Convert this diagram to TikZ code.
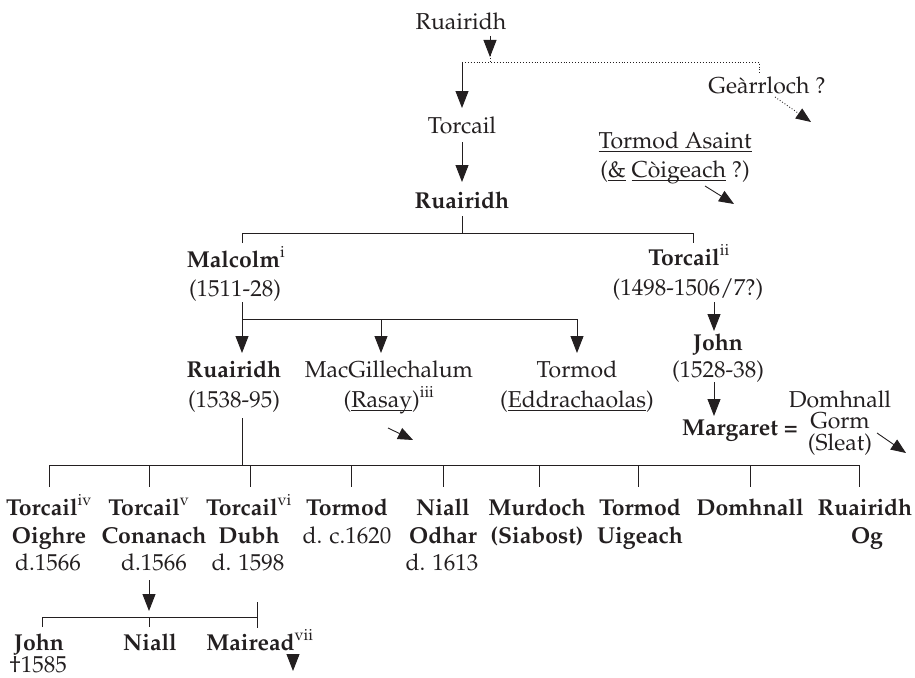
\documentclass[tikz,border=0pt]{standalone}
\usepackage[T1]{fontenc}
\renewcommand{\rmdefault}{ppl}
\usetikzlibrary{arrows.meta}
\definecolor{ink}{HTML}{231F20}
\begin{document}
\begin{tikzpicture}[x=1pt,y=-1pt,
  t/.style={inner sep=0pt, anchor=base, text=ink, font=\fontsize{23}{28}\selectfont},
  b/.style={t, font=\fontsize{23}{28}\selectfont\bfseries},
  ln/.style={draw=ink, line width=0.9pt},
  dl/.style={draw=ink, line width=0.9pt, dotted},
  ar/.style={ln, -{Triangle[length=17pt,width=13pt]}},
  sar/.style={ln, -{Triangle[length=15pt,width=12pt]}},
  dar/.style={dl, -{Triangle[length=15pt,width=12pt]}}]
\newcommand{\sups}[1]{\textsuperscript{\mdseries #1}}
\newcommand{\ul}[1]{\underline{\smash{#1}\rule[-2.2pt]{0pt}{0pt}}}
\useasboundingbox (0,0) rectangle (915,677);

% top
\node[t] (r1) at (461,30) {Ruairidh};
\node[t] (gear) at (767,93) {Ge\`arrloch ?};
\node[t] (torc1) at (462,133) {Torcail};
\node[t] (tasa) at (675,148) {\ul{Tormod Asaint}};
\node[t] (tasb) at (675,177) {(\ul{\&} \ul{C\`oigeach} ?)};
\node[b] (r2) at (462,208) {Ruairidh};

% generation 2
\node[b] (malc) at (236,267) {Malcolm\sups{i}};
\node[t] (malcd) at (235,296) {(1511-28)};
\node[b] (torc2) at (689,265) {Torcail\sups{ii}};
\node[t] (torc2d) at (688,295) {(1498-1506/7?)};

% generation 3
\node[b] (r3) at (234,377) {Ruairidh};
\node[t] (r3d) at (234,407) {(1538-95)};
\node[t] (macg) at (389,377) {MacGillechalum};
\node[t] (macgd) at (389,407) {(\ul{Rasay})\sups{iii}};
\node[t] (torm) at (577,377) {Tormod};
\node[t] (tormd) at (577,407) {(\ul{Eddrachaolas})};
\node[b] (john) at (718,350) {John};
\node[t] (johnd) at (718,377) {(1528-38)};
\node[b] (marg) at (740,435) {Margaret =};
\node[t] (domh) at (840,407) {Domhnall};
\node[t] (gorm) at (840,428) {Gorm};
\node[t] (sleat) at (840,450) {(Sleat)};

% generation 4
\node[b] (c1a) at (49,515) {Torcail\sups{iv}};
\node[b] (c1b) at (49,543) {Oighre};
\node[t] (c1c) at (48,570) {d.1566};
\node[b] (c2a) at (149,515) {Torcail\sups{v}};
\node[b] (c2b) at (154,543) {Conanach};
\node[t] (c2c) at (154,570) {d.1566};
\node[b] (c3a) at (249,515) {Torcail\sups{vi}};
\node[b] (c3b) at (249,543) {Dubh};
\node[t] (c3c) at (248,570) {d. 1598};
\node[b] (c4a) at (347,515) {Tormod};
\node[t] (c4b) at (347,543) {d. c.1620};
\node[b] (c5a) at (443,515) {Niall};
\node[b] (c5b) at (443,543) {Odhar};
\node[t] (c5c) at (442,570) {d. 1613};
\node[b] (c6a) at (537,515) {Murdoch};
\node[b] (c6b) at (537,543) {(Siabost)};
\node[b] (c7a) at (640,515) {Tormod};
\node[b] (c7b) at (640,543) {Uigeach};
\node[b] (c8a) at (750,515) {Domhnall};
\node[b] (c9a) at (865,515) {Ruairidh};
\node[b] (c9b) at (867,543) {Og};

% generation 5
\node[b] (g1) at (39,650) {John};
\node[t] (g1d) at (38,672) {\textdagger1585};
\node[b] (g2) at (150,650) {Niall};
\node[b] (g3) at (260,650) {Mairead\sups{vii}};

% connectors: top
\coordinate (j0) at (490,62);
\coordinate (jl) at (462,62);
\coordinate (jr) at (759,62);
\draw[ar] (490,36) -- (490,57);
\draw[dl] (490,55) -- (j0);
\draw[dl] (jl) -- (jr) -- (759,75);
\draw[ar] (jl) -- (462,108);
\draw[dar] (775,97) -- (811,122);
\draw[ar] (462,142) -- (462,182);
\draw[sar] (705,186) -- (734,204);

% Ruairidh -> Malcolm, Torcail
\coordinate (k0) at (462,233);
\draw[ln] (462,216) -- (k0);
\draw[ln] (242,243) -- (242,233) -- (693,233) -- (693,243);

% Malcolm -> children
\coordinate (m0) at (242,319);
\draw[ar] (242,302) -- (242,353);
\draw[ln] (m0) -- (577,319);
\draw[ar] (381,319) -- (381,353);
\draw[ar] (577,319) -- (577,353);

% Torcail -> John -> Margaret
\draw[ar] (714,302) -- (714,331);
\draw[ar] (714,382) -- (714,416);

% diagonal arrows
\draw[sar] (388,428) -- (413,440);
\draw[sar] (877,433) -- (906,453);

% Ruairidh -> sons
\draw[ln] (242,418) -- (242,465);
\draw[ln] (49,487) -- (49,465) -- (859,465) -- (859,487);
\foreach \x in {149,250,351,443,539,638,750}
  \draw[ln] (\x,465) -- (\x,487);

% Torcail Conanach -> children
\draw[ar] (149,580) -- (149,611);
\draw[ln] (42,627) -- (42,617) -- (257,617);
\draw[ln] (149,617) -- (149,627);
\draw[ln] (257,602) -- (257,628);
\draw[ar] (293,655) -- (293,671);
\end{tikzpicture}
\end{document}
